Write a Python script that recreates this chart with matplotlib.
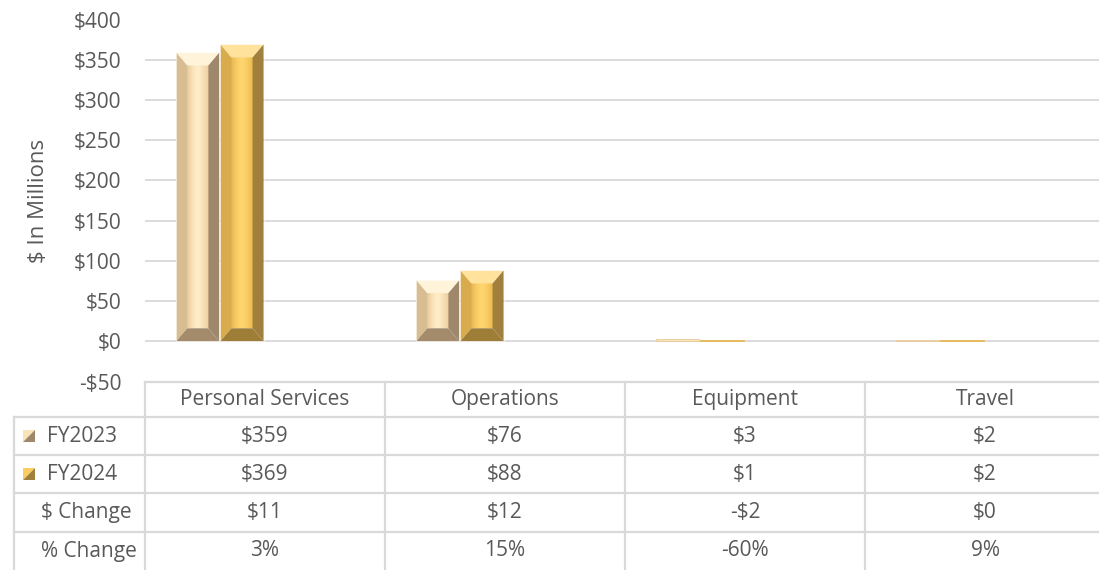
import numpy as np
import matplotlib
matplotlib.use("Agg")
import matplotlib.pyplot as plt
from matplotlib.patches import Polygon, Rectangle
from matplotlib.colors import LinearSegmentedColormap

categories = ["Personal Services", "Operations", "Equipment", "Travel"]
fy2023 = [359, 76, 3, 2]
fy2024 = [369, 88, 1, 2]
dollar_change = ["$11", "$12", "-$2", "$0"]
pct_change = ["3%", "15%", "-60%", "9%"]
fy2023_labels = ["$359", "$76", "$3", "$2"]
fy2024_labels = ["$369", "$88", "$1", "$2"]
yticks = [-50, 0, 50, 100, 150, 200, 250, 300, 350, 400]

FONT = ["Open Sans", "DejaVu Sans"]
TXT = "#595959"
GRID = "#D9D9D9"
FS = 15

W, H = 1099, 570
fig = plt.figure(figsize=(W / 100, H / 100), dpi=100)

ax_l, ax_r = 145, 1105
ax_top, ax_bot = 19.5, 381.5
ax = fig.add_axes([ax_l / W, 1 - ax_bot / H, (ax_r - ax_l) / W, (ax_bot - ax_top) / H])
ax.set_xlim(0, 4)
ax.set_ylim(-50, 400)
for s in ax.spines.values():
    s.set_visible(False)
ax.set_xticks([])
ax.set_yticks(yticks)
ax.set_yticklabels([("-$%d" % -v) if v < 0 else "$%d" % v for v in yticks],
                   fontsize=FS, color=TXT, family=FONT)
ax.tick_params(axis="y", length=0, pad=17)
for v in yticks[1:]:
    ax.axhline(v, color=GRID, lw=1.3, zorder=0)

ax.set_ylabel("$ In Millions", fontsize=FS + 1, color=TXT, family=FONT, labelpad=18)

px_x = 4 / (ax_r - ax_l)
px_y = 450 / (ax_bot - ax_top)

styles = {
    "a": dict(face=["#E6CA9C", "#FBE3B8", "#FFEECC", "#F8E0B4", "#E9CFA3"],
              top="#FFF3DA", left="#D9BD92", right="#9E876A", bottom="#A38B6B"),
    "b": dict(face=["#E6B654", "#F9CC64", "#FFD872", "#F9CB60", "#EBB953"],
              top="#FFE39C", left="#D8AB4C", right="#A0803C", bottom="#9E7D37"),
}

def bevel_bar(x0, width, h, st):
    x1 = x0 + width
    if h < 24 * px_y:
        ax.add_patch(Rectangle((x0, 0), width, h, facecolor=st["face"][1],
                               edgecolor=st["face"][0], lw=0.6, zorder=3))
        return
    bx = min(11 * px_x, width / 2)
    by = 13 * px_y
    ix0, ix1 = x0 + bx, x1 - bx
    iy0, iy1 = by, h - by
    cmap = LinearSegmentedColormap.from_list("f", st["face"])
    grad = np.linspace(0, 1, 64).reshape(1, -1)
    ax.imshow(grad, cmap=cmap, extent=(ix0, ix1, iy0, iy1), aspect="auto",
              interpolation="bilinear", zorder=3)
    polys = [
        ([(x0, h), (x1, h), (ix1, iy1), (ix0, iy1)], st["top"]),
        ([(x0, 0), (x0, h), (ix0, iy1), (ix0, iy0)], st["left"]),
        ([(x1, 0), (x1, h), (ix1, iy1), (ix1, iy0)], st["right"]),
        ([(x0, 0), (x1, 0), (ix1, iy0), (ix0, iy0)], st["bottom"]),
    ]
    for pts, c in polys:
        ax.add_patch(Polygon(pts, closed=True, facecolor=c, edgecolor="none", zorder=3))
    ax.add_patch(Rectangle((x0, 0), width, h, fill=False, edgecolor="#FFFFFF", lw=0.4, zorder=4))

bw = 0.18
xs = np.arange(len(categories))
for i in xs:
    bevel_bar(i + 0.13, bw, fy2023[i], styles["a"])
    bevel_bar(i + 0.13 + bw + 0.004, bw, fy2024[i], styles["b"])
ax.set_xlim(0, 4)
ax.set_ylim(-50, 400)

# ---- data table ----
tab = fig.add_axes([0, 0, 1, 1])
tab.set_xlim(0, W)
tab.set_ylim(H, 0)
tab.axis("off")
col_edges = [14, 145, 385, 625, 865, 1105]
row_edges = [382, 417, 455, 493, 532, 575]
lw = 1.6
tab.plot([145, 1105], [row_edges[0]] * 2, color=GRID, lw=lw)
for r in row_edges[1:5]:
    tab.plot([14, 1105], [r, r], color=GRID, lw=lw)
tab.plot([14, 14], [row_edges[1], H], color=GRID, lw=lw)
for c in col_edges[1:5]:
    tab.plot([c, c], [row_edges[0], H], color=GRID, lw=lw)

def cy(i):
    return (row_edges[i] + min(row_edges[i + 1], H)) / 2

for j, cat in enumerate(categories):
    cx = (col_edges[j + 1] + col_edges[j + 2]) / 2
    tab.text(cx, cy(0), cat, ha="center", va="center", fontsize=FS, color=TXT, family=FONT)
    for r, vals in enumerate([fy2023_labels, fy2024_labels, dollar_change, pct_change], start=1):
        tab.text(cx, cy(r), vals[j], ha="center", va="center", fontsize=FS, color=TXT, family=FONT)

row_names = ["FY2023", "FY2024", "$ Change", "% Change"]
row_x = [47, 47, 41, 41]
for r, name in enumerate(row_names, start=1):
    tab.text(row_x[r - 1], cy(r), name, ha="left", va="center", fontsize=FS, color=TXT, family=FONT)

for r, st in [(1, styles["a"]), (2, styles["b"])]:
    yc = cy(r)
    s = 12
    kx, ky = 23, yc - s / 2
    tab.add_patch(Polygon([(kx, ky), (kx + s, ky), (kx, ky + s)], facecolor=st["face"][1], edgecolor="none"))
    tab.add_patch(Polygon([(kx + s, ky), (kx + s, ky + s), (kx, ky + s)], facecolor=st["right"], edgecolor="none"))

fig.savefig("out.png", dpi=100)
